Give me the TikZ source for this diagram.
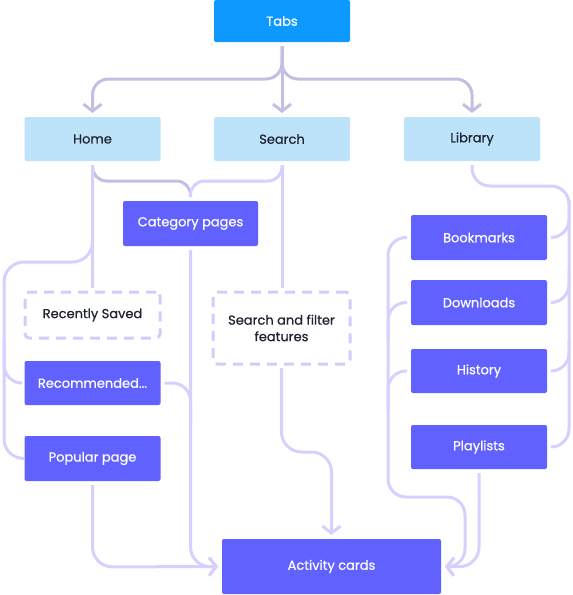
\documentclass[tikz,border=0pt]{standalone}
\usepackage{fontspec}
\setmainfont{Poppins}[FakeBold=0.6]
\usetikzlibrary{arrows.meta}
\definecolor{tabblue}{HTML}{0D99FF}
\definecolor{lightblue}{HTML}{BDE3FB}
\definecolor{purplebox}{HTML}{6161FF}
\definecolor{darktext}{HTML}{1F2430}
\definecolor{cA}{HTML}{C3BFE3}
\definecolor{cB}{HTML}{D8CFFD}
\definecolor{dashc}{HTML}{D4CBFB}
\tikzset{
  base/.style={rectangle, rounded corners=2pt, outer sep=4pt, inner sep=0pt, align=center, font=\fontsize{13}{16.5}\selectfont},
  tabbox/.style={base, fill=tabblue, text=white},
  bluebox/.style={base, fill=lightblue, text=darktext},
  pbox/.style={base, fill=purplebox, text=white},
  dbox/.style={base, fill=white, draw=dashc, line width=3pt, dash pattern=on 10pt off 7pt, rounded corners=4pt, text=darktext},
  conA/.style={draw=cA, line width=3pt},
  conB/.style={draw=cB, line width=3pt},
  arr/.style={-{Straight Barb[length=7pt,width=18pt,line width=3pt]}},
}
\begin{document}
\begin{tikzpicture}[x=1pt,y=-1pt]
\useasboundingbox (0,0) rectangle (573,595);
% nodes
\node[tabbox, minimum width=136pt, minimum height=42pt] (tabs) at (282,21) {Tabs};
\node[bluebox, minimum width=136pt, minimum height=44pt] (home) at (92.5,139) {Home};
\node[bluebox, minimum width=136pt, minimum height=44pt] (search) at (282,139) {Search};
\node[bluebox, minimum width=136pt, minimum height=44pt] (library) at (472,139) {Library};
\node[pbox, minimum width=135pt, minimum height=45pt] (cat) at (190.5,223.5) {Category pages};
\node[dbox, minimum width=135pt, minimum height=46pt] (recent) at (92.5,315) {Recently Saved};
\node[dbox, minimum width=137pt, minimum height=72pt] (sf) at (281.5,328) {Search and filter\\features};
\node[pbox, minimum width=136pt, minimum height=44pt] (rec) at (92.5,383) {Recommended...};
\node[pbox, minimum width=136pt, minimum height=45pt] (pop) at (92.5,458.5) {Popular page};
\node[pbox, minimum width=136pt, minimum height=45pt] (bm) at (479,237.5) {Bookmarks};
\node[pbox, minimum width=136pt, minimum height=45pt] (dl) at (479,302.5) {Downloads};
\node[pbox, minimum width=136pt, minimum height=44pt] (hist) at (479,371) {History};
\node[pbox, minimum width=136pt, minimum height=44pt] (pl) at (479,447) {Playlists};
\node[pbox, minimum width=219pt, minimum height=55pt] (act) at (331.5,566.5) {Activity cards};
% Tabs to tabs
\draw[conA, arr, rounded corners=16pt] (tabs.south) -- (282,79) -| (home.north);
\draw[conA, arr, rounded corners=16pt] (tabs.south) -- (282,79) -| (library.north);
\draw[conA, arr] (tabs.south) -- (search.north);
% Home / Search to Category
\draw[conA, rounded corners=14pt] (home.south) -- (92.5,181) -| (cat.north);
\draw[conB, rounded corners=14pt] (search.south) -- (282,181) -| (cat.north);
% Home to recently saved and left rail
\draw[conB] (home.south) -- (recent.north);
\draw[conB, rounded corners=20pt] (home.south) -- (92.5,262) -| (4,459) -- (pop.west);
\draw[conB, rounded corners=18pt] (4,340) -- (4,383) -- (rec.west);
% Search to filter features
\draw[conB] (search.south) -- (search.south |- sf.north);
% Category / Recommended / Popular to Activity
\draw[conB, arr, rounded corners=20pt] (cat.south) -- (190.5,567) -- (act.west);
\draw[conB, rounded corners=18pt] (rec.east) -- (190.5,383) -- (190.5,430);
\draw[conB, arr, rounded corners=20pt] (pop.south) -- (92.5,567) -- (act.west);
% Search filter to Activity
\draw[conB, arr, rounded corners=20pt] (sf.south) -- (281.5,452) -| (act.north);
% Library right rail
\draw[conB, rounded corners=18pt] (library.south) -- (472,186) -| (569,447) -- (pl.east);
\draw[conB, rounded corners=18pt] (569,200) -- (569,237.5) -- (bm.east);
\draw[conB, rounded corners=18pt] (569,270) -- (569,302.5) -- (dl.east);
\draw[conB, rounded corners=18pt] (569,340) -- (569,371) -- (hist.east);
% Library left rail
\draw[conB, arr, rounded corners=18pt] (bm.west) -| (388,497) -| (465,567) -- (act.east);
\draw[conB, rounded corners=18pt] (dl.west) -- (388,302.5) -- (388,340);
\draw[conB, rounded corners=18pt] (hist.west) -- (388,371) -- (388,410);
\draw[conB, arr, rounded corners=20pt] (pl.south) -- (479,567) -- (act.east);
\end{tikzpicture}
\end{document}
